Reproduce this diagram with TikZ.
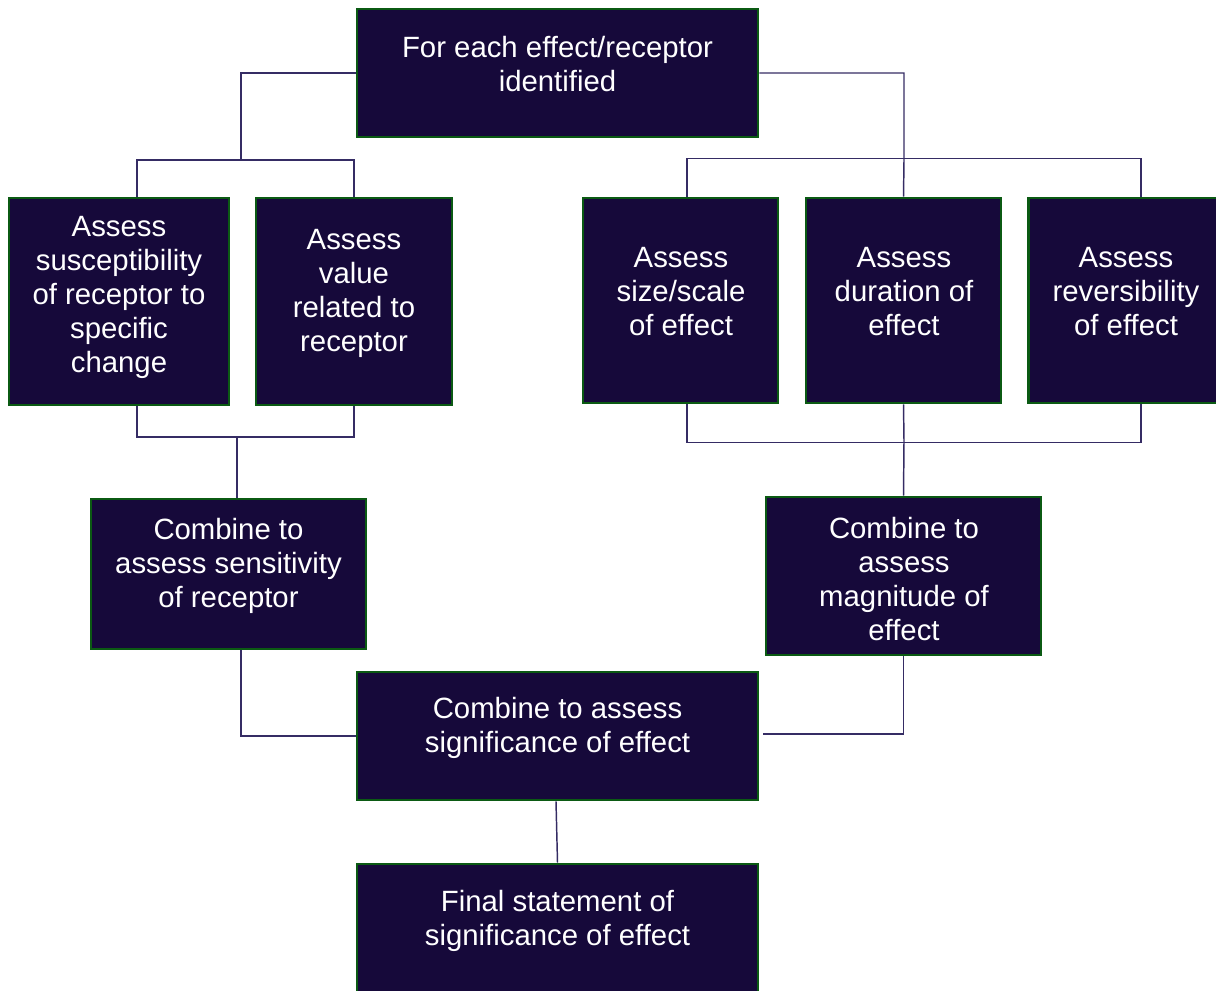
\documentclass[tikz,border=0pt]{standalone}
\usepackage{fontspec}
\setmainfont{Liberation Sans}
\usetikzlibrary{calc}
\definecolor{boxfill}{HTML}{16093A}
\definecolor{boxedge}{HTML}{0B5A13}
\definecolor{linec}{HTML}{352C64}
\tikzset{
  box/.style={draw=boxedge, line width=2.2pt, fill=boxfill, rectangle, inner sep=0pt},
  txt/.style={text=white, align=center, font=\fontsize{22pt}{25.5pt}\selectfont, inner sep=0pt},
  conn/.style={draw=linec, line width=1.1pt}
}
\begin{document}
\begin{tikzpicture}[x=0.75pt, y=-0.75pt]
\useasboundingbox (0,0) rectangle (1216,990);
\clip (0,0) rectangle (1216,990);
% boxes
\node[box, minimum width=401*0.75pt, minimum height=128*0.75pt] (top) at (557.5,73) {};
\node[box, minimum width=220*0.75pt, minimum height=207*0.75pt] (sus) at (119,301.5) {};
\node[box, minimum width=196*0.75pt, minimum height=207*0.75pt] (val) at (354,301.5) {};
\node[box, minimum width=195*0.75pt, minimum height=205*0.75pt] (size) at (680.5,300.5) {};
\node[box, minimum width=195*0.75pt, minimum height=205*0.75pt] (dur) at (903.5,300.5) {};
\node[box, minimum width=195*0.75pt, minimum height=205*0.75pt] (rev) at (1126,300.5) {};
\node[box, minimum width=275*0.75pt, minimum height=150*0.75pt] (sens) at (228.5,574) {};
\node[box, minimum width=275*0.75pt, minimum height=158*0.75pt] (mag) at (903.5,576) {};
\node[box, minimum width=401*0.75pt, minimum height=128*0.75pt] (sig) at (557.5,736) {};
\node[box, minimum width=401*0.75pt, minimum height=128*0.75pt] (fin) at (557.5,928) {};
% texts
\node[txt] (top-t) at (557.5,64) {For each effect/receptor\\identified};
\node[txt] (sus-t) at (119,297) {Assess\\susceptibility\\of receptor to\\specific\\change};
\node[txt] (val-t) at (354,293.5) {Assess\\value\\related to\\receptor};
\node[txt] (size-t) at (681,292) {Assess\\size/scale\\of effect};
\node[txt] (dur-t) at (904,292) {Assess\\duration of\\effect};
\node[txt] (rev-t) at (1126,292) {Assess\\reversibility\\of effect};
\node[txt] (sens-t) at (228.5,566) {Combine to\\assess sensitivity\\of receptor};
\node[txt] (mag-t) at (904,579) {Combine to\\assess\\magnitude of\\effect};
\node[txt] (sig-t) at (557.5,728) {Combine to assess\\significance of effect};
\node[txt] (fin-t) at (557.5,921) {Final statement of\\significance of effect};
% junctions
\coordinate (jl) at (241,160);
\coordinate (jr) at (904,160);
\coordinate (bl) at (237,437);
\coordinate (br) at (904,441);
% connectors top
\draw[conn] (top.west) -| (jl);
\draw[conn] ($(sus.north)+(18,0)$) |- (jl) -| (val.north);
\draw[conn] (top.east) -| (jr) -- (dur.north);
\draw[conn] ($(size.north)+(6.5,0)$) |- ($(rev.north)+(15,-38)$) -- ($(rev.north)+(15,0)$);
% connectors middle
\draw[conn] ($(sus.south)+(18,0)$) |- (bl) -| (val.south);
\draw[conn] (bl) -- (sens.north -| bl);
\draw[conn] ($(size.south)+(6.5,0)$) |- ($(rev.south)+(15,38)$) -- ($(rev.south)+(15,0)$);
\draw[conn] (dur.south) -- (br) -- (mag.north);
% connectors bottom
\draw[conn] ($(sens.south)+(12.5,0)$) |- (sig.west);
\draw[conn] (mag.south) |- ($(sig.east)+(4,-2)$);
\draw[conn] ($(sig.south)+(-1.5,0)$) -- (fin.north);
\end{tikzpicture}
\end{document}
